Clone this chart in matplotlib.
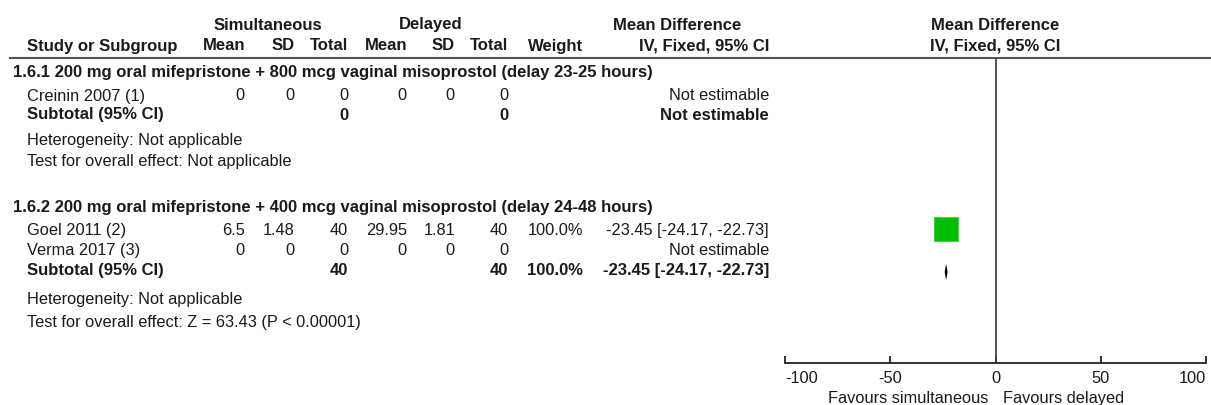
import matplotlib
matplotlib.use("Agg")
import matplotlib.pyplot as plt

plt.rcParams['font.family'] = ['Liberation Sans', 'DejaVu Sans']

# data
groups = ['1.6.1 200 mg oral mifepristone + 800 mcg vaginal misoprostol (delay 23-25 hours)',
          '1.6.2 200 mg oral mifepristone + 400 mcg vaginal misoprostol (delay 24-48 hours)']
studies = ['Creinin 2007 (1)', 'Goel 2011 (2)', 'Verma 2017 (3)']
sim_mean = [0, 6.5, 0]
sim_sd = [0, 1.48, 0]
sim_n = [0, 40, 0]
del_mean = [0, 29.95, 0]
del_sd = [0, 1.81, 0]
del_n = [0, 40, 0]
weight = [None, 100.0, None]
md = [None, -23.45, None]
md_lo = [None, -24.17, None]
md_hi = [None, -22.73, None]
sub_sim_n = [0, 40]
sub_del_n = [0, 40]
sub_weight = [None, 100.0]
sub_md = [None, -23.45]
sub_lo = [None, -24.17]
sub_hi = [None, -22.73]
heterogeneity = ['Heterogeneity: Not applicable', 'Heterogeneity: Not applicable']
overall = ['Test for overall effect: Not applicable',
           'Test for overall effect: Z = 63.43 (P < 0.00001)']
xticks = [-100, -50, 0, 50, 100]

# layout (pixel rows / columns)
fs = 11.8
fsb = 12.0
ink = '#1a1a1a'
col_right = [245, 295, 348, 407, 455, 508, 583, 769]
group_y = [72, 208]
study_y = [96, 231, 251]
sub_y = [115, 271]
het_y = [141, 300]
test_y = [162, 323]

fig = plt.figure(figsize=(12.11, 4.06), dpi=100)
ax = fig.add_axes([0, 0, 1, 1])
ax.set_xlim(0, 1211)
ax.set_ylim(406, 0)
ax.axis('off')

# headers
ax.text(268, 25, 'Simultaneous', ha='center', va='center', fontsize=fsb, fontweight='bold', color=ink)
ax.text(431, 25, 'Delayed', ha='center', va='center', fontsize=fsb, fontweight='bold', color=ink)
ax.text(677, 25, 'Mean Difference', ha='center', va='center', fontsize=fsb, fontweight='bold', color=ink)
ax.text(995, 25, 'Mean Difference', ha='center', va='center', fontsize=fsb, fontweight='bold', color=ink)
ax.text(995, 46, 'IV, Fixed, 95% CI', ha='center', va='center', fontsize=fsb, fontweight='bold', color=ink)
ax.text(27, 46, 'Study or Subgroup', ha='left', va='center', fontsize=fsb, fontweight='bold', color=ink)
heads = ['Mean', 'SD', 'Total', 'Mean', 'SD', 'Total', 'Weight', 'IV, Fixed, 95% CI']
for x, h in zip(col_right, heads):
    ax.text(x, 46, h, ha='right', va='center', fontsize=fsb, fontweight='bold', color=ink)
ax.plot([10, 1211], [59, 59], color='#555555', lw=1.5)


def fmt(v):
    return f'{v:g}'


def ci_text(m, lo, hi):
    if m is None:
        return 'Not estimable'
    return f'{m:.2f} [{lo:.2f}, {hi:.2f}]'


for g, name in enumerate(groups):
    ax.text(13, group_y[g], name, ha='left', va='center', fontsize=fsb, fontweight='bold', color=ink)
    ax.text(27, het_y[g], heterogeneity[g], ha='left', va='center', fontsize=fs, color=ink)
    ax.text(27, test_y[g], overall[g], ha='left', va='center', fontsize=fs, color=ink)
    ax.text(27, sub_y[g], 'Subtotal (95% CI)', ha='left', va='center', fontsize=fsb, fontweight='bold', color=ink)
    vals = [fmt(sub_sim_n[g]), fmt(sub_del_n[g]),
            '' if sub_weight[g] is None else f'{sub_weight[g]:.1f}%',
            ci_text(sub_md[g], sub_lo[g], sub_hi[g])]
    for x, v in zip([col_right[2], col_right[5], col_right[6], col_right[7]], vals):
        ax.text(x, sub_y[g], v, ha='right', va='center', fontsize=fsb, fontweight='bold', color=ink)

for i, s in enumerate(studies):
    y = study_y[i]
    ax.text(27, y, s, ha='left', va='center', fontsize=fs, color=ink)
    vals = [fmt(sim_mean[i]), fmt(sim_sd[i]), fmt(sim_n[i]),
            fmt(del_mean[i]), fmt(del_sd[i]), fmt(del_n[i]),
            '' if weight[i] is None else f'{weight[i]:.1f}%',
            ci_text(md[i], md_lo[i], md_hi[i])]
    for x, v in zip(col_right, vals):
        ax.text(x, y, v, ha='right', va='center', fontsize=fs, color=ink)

# forest panel
fx = fig.add_axes([785 / 1211, 0, 421 / 1211, 1])
fx.set_xlim(-100, 100)
fx.set_ylim(406, 0)
fx.patch.set_alpha(0)
for sp in ['left', 'right', 'top']:
    fx.spines[sp].set_visible(False)
fx.spines['bottom'].set_position(('data', 364))
fx.spines['bottom'].set_bounds(-100, 100)
fx.spines['bottom'].set_color('#222222')
fx.spines['bottom'].set_linewidth(1.3)
fx.set_yticks([])
fx.set_xticks(xticks)
fx.set_xticklabels([str(t) for t in xticks])
fx.tick_params(axis='x', direction='in', length=5, width=1.3, color='#222222',
               labelsize=fs, labelcolor=ink, pad=5)
lbls = fx.get_xticklabels()
lbls[0].set_ha('left')
lbls[-1].set_ha('right')
fx.vlines(0, 59, 364, color='#444444', lw=1.3)

for i in range(len(studies)):
    if md[i] is None:
        continue
    y = study_y[i]
    fx.hlines(y, md_lo[i], md_hi[i], color='black', lw=1)
    fx.plot(md[i], y - 1, marker='s', ms=17.5 * (weight[i] / 100) ** 0.5,
            color='#00bf00', mec='#33dd33', mew=0.6)

for g in range(len(groups)):
    if sub_md[g] is None:
        continue
    y = sub_y[g] + 2
    fx.fill([sub_lo[g], sub_md[g], sub_hi[g], sub_md[g]], [y, y - 8, y, y + 8],
            color='black', lw=0)

fx.text(-3.3, 399, 'Favours simultaneous', ha='right', va='center', fontsize=fs, color=ink)
fx.text(3.7, 399, 'Favours delayed', ha='left', va='center', fontsize=fs, color=ink)

fig.savefig('out.png', dpi=100)
